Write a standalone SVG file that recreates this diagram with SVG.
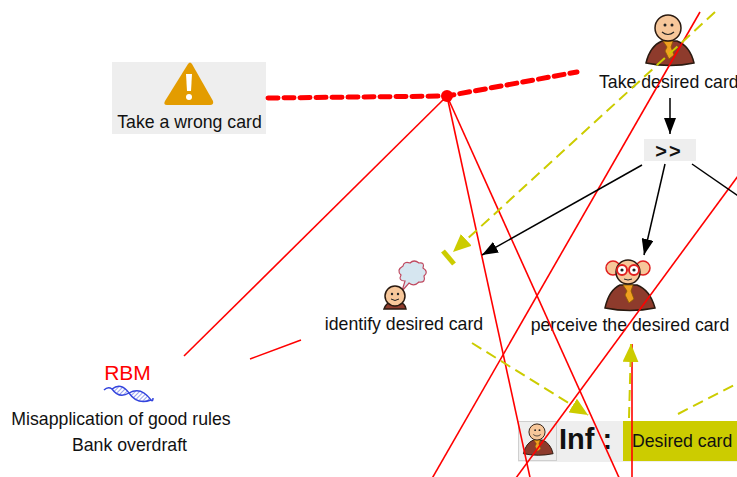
<svg xmlns="http://www.w3.org/2000/svg" width="737" height="477" viewBox="0 0 737 477">
  <style>
    .lbl{font-family:"Liberation Sans",Arial,sans-serif;font-size:17.7px;fill:#111}
    .red{stroke:#ff0000;stroke-width:1.6;fill:none}
    .yel{stroke:#cccc00;stroke-width:2;stroke-dasharray:11,6;fill:none}
    .blk{stroke:#000;stroke-width:1.5;fill:none}
    .skin{fill:#f7c79a;stroke:#2a1a10;stroke-width:1.5}
    .coat{fill:#8e3b2c;stroke:#2a1a10;stroke-width:1.5}
    .tie{fill:#f0a020;stroke:#8a5a00;stroke-width:0.8}
  </style>
  <defs>
    <marker id="ahBlack" markerUnits="userSpaceOnUse" markerWidth="18" markerHeight="12" refX="16" refY="6" orient="auto">
      <path d="M0,0 L16,6 L0,12 Z" fill="#000"/>
    </marker>
    <marker id="ahYellow" markerUnits="userSpaceOnUse" markerWidth="20" markerHeight="16" refX="18" refY="8" orient="auto">
      <path d="M0,0 L18,8 L0,16 Z" fill="#cccc00"/>
    </marker>
    <pattern id="hatch" patternUnits="userSpaceOnUse" width="3" height="3" patternTransform="rotate(45)">
      <line x1="0" y1="0" x2="0" y2="3" stroke="#3344dd" stroke-width="1"/>
    </pattern>
    <!-- standing person, head centred at origin -->
    <g id="person">
      <path class="coat" d="M-22,35 Q-18,18 -6,13 L9,13 Q22,18 26,35 Q2,40 -22,35 Z"/>
      <path class="tie" d="M-5,13 L5,13 L3,19 L6,27 L1,31 L-3,23 L-1,19 Z"/>
      <circle class="skin" cx="0" cy="0" r="13"/>
      <circle cx="-3" cy="-3" r="1.5" fill="#222"/>
      <circle cx="4" cy="-3" r="1.5" fill="#222"/>
      <path d="M-6,4 Q0,9 6,4" stroke="#222" stroke-width="1.2" fill="none"/>
    </g>
  </defs>

  <!-- nodes -->
  <g id="take-wrong-card">
    <rect x="112" y="62" width="154" height="72" fill="#eeeeee"/>
    <path d="M188,64 Q190,61 192,64 L213,101 Q214,105 210,105 L167,105 Q163,105 165,101 Z" fill="#e39c00"/>
    <path d="M186,74 L192,74 L191,91 L187,91 Z" fill="#fff"/>
    <circle cx="189" cy="97" r="3" fill="#fff"/>
    <text class="lbl" x="189.5" y="128" text-anchor="middle">Take a wrong card</text>
  </g>

  <g id="take-desired-card">
    <use href="#person" transform="translate(668,28)"/>
    <text class="lbl" x="599" y="88">Take desired card</text>
  </g>

  <g id="sequence">
    <rect x="644" y="139" width="52" height="22" fill="#eeeeee"/>
    <text x="669" y="158" text-anchor="middle" font-family="'Liberation Sans',Arial,sans-serif" font-size="20" font-weight="bold" letter-spacing="2" fill="#111">&gt;&gt;</text>
  </g>

  <g id="identify-desired-card">
    <path d="M403,266 Q404,261 410,263 Q414,259 419,263 Q425,262 423,268 Q429,272 424,276 Q426,283 419,282 Q414,287 409,283 L402,291 L405,281 Q398,281 401,275 Q396,270 403,266 Z" fill="#d6e6f0" stroke="#c04a60" stroke-width="1.2"/>
    <path class="coat" d="M384,309 Q386,303 391,302 L399,302 Q405,303 406,309 Z" stroke-width="1"/>
    <circle class="skin" cx="395" cy="296" r="10"/>
    <circle cx="392" cy="294" r="1.2" fill="#222"/>
    <circle cx="398" cy="294" r="1.2" fill="#222"/>
    <path d="M391,299 Q395,302 399,299" stroke="#222" stroke-width="1" fill="none"/>
    <text class="lbl" x="404" y="330" text-anchor="middle">identify desired card</text>
  </g>

  <g id="perceive-desired-card">
    <path class="coat" d="M605,308 Q609,290 620,285 L637,285 Q650,290 655,308 Q630,313 605,308 Z"/>
    <path class="tie" d="M623,285 L633,285 L631,291 L634,299 L629,303 L625,295 L627,291 Z"/>
    <circle cx="613" cy="268" r="7" fill="#f7c79a" stroke="#e02020" stroke-width="1.5"/>
    <circle cx="643" cy="268" r="7" fill="#f7c79a" stroke="#e02020" stroke-width="1.5"/>
    <circle class="skin" cx="628" cy="272" r="12"/>
    <circle cx="622" cy="270" r="5" fill="#fff" stroke="#e02020" stroke-width="2"/>
    <circle cx="634" cy="270" r="5" fill="#fff" stroke="#e02020" stroke-width="2"/>
    <circle cx="622" cy="270" r="1.6" fill="#222"/>
    <circle cx="634" cy="270" r="1.6" fill="#222"/>
    <path d="M624,279 Q628,281 632,279" stroke="#222" stroke-width="1" fill="none"/>
    <text class="lbl" x="630" y="331" text-anchor="middle">perceive the desired card</text>
  </g>

  <g id="rbm">
    <text x="127.5" y="380" text-anchor="middle" font-family="'Liberation Sans',Arial,sans-serif" font-size="21" fill="#ff0000">RBM</text>
    <path d="M104,390 Q108,386 112,389" stroke="#3344dd" stroke-width="1.5" fill="none"/>
    <path d="M112,389 Q121,382 129,393 Q119,399 112,389 Z" fill="url(#hatch)" stroke="#3344dd" stroke-width="1.4"/>
    <path d="M129,393 Q141,386 151,400 Q137,405 129,393 Z" fill="url(#hatch)" stroke="#3344dd" stroke-width="1.4"/>
    <path d="M151,400 Q153,402 153,398" stroke="#3344dd" stroke-width="1.5" fill="none"/>
    <text class="lbl" x="121" y="425" text-anchor="middle">Misapplication of good rules</text>
    <text class="lbl" x="129.5" y="451" text-anchor="middle">Bank overdraft</text>
  </g>

  <g id="inf-desired-card">
    <rect x="518" y="421" width="230" height="41" fill="#eeeeee"/>
    <rect x="518.5" y="421.5" width="38" height="39" fill="none" stroke="#cfcfcf" stroke-width="1"/>
    <use href="#person" transform="translate(537,432) scale(0.62)"/>
    <text x="559" y="449" font-family="'Liberation Sans',Arial,sans-serif" font-size="29" font-weight="bold" fill="#111">Inf<tspan dx="8">:</tspan></text>
    <rect x="623" y="421" width="125" height="40" fill="#cccc00"/>
    <text class="lbl" x="632" y="447">Desired card</text>
  </g>

  <!-- connectors -->
  <g id="connectors">
    <!-- thick dashed branch with junction -->
    <polyline points="268,98 447,96 577,72" fill="none" stroke="#ff0000" stroke-width="5" stroke-linecap="round" stroke-dasharray="10,6"/>
    <circle cx="447" cy="96" r="6" fill="#ff0000"/>
    <line class="red" x1="447" y1="96" x2="184" y2="356"/>
    <line class="red" x1="447" y1="96" x2="531" y2="482"/>
    <line class="red" x1="447" y1="96" x2="621" y2="482"/>
    <line class="red" x1="250" y1="359" x2="301" y2="340"/>
    <line class="red" x1="700" y1="12" x2="430" y2="482"/>
    <line class="red" x1="760" y1="146" x2="513" y2="482"/>
    <line class="red" x1="632" y1="344" x2="632" y2="482"/>

    <!-- yellow dashed flows -->
    <line class="yel" x1="715" y1="12" x2="453" y2="252" marker-end="url(#ahYellow)"/>
    <line x1="443" y1="251" x2="454" y2="264" stroke="#cccc00" stroke-width="5"/>
    <line class="yel" x1="472" y1="343" x2="588" y2="415" marker-end="url(#ahYellow)"/>
    <line class="yel" x1="629" y1="418" x2="631" y2="344" marker-end="url(#ahYellow)"/>
    <line class="yel" x1="678" y1="414" x2="740" y2="382"/>

    <!-- black sequence arrows -->
    <line class="blk" x1="670" y1="98" x2="670" y2="134" marker-end="url(#ahBlack)"/>
    <line class="blk" x1="642" y1="165" x2="482" y2="255" marker-end="url(#ahBlack)"/>
    <line class="blk" x1="665" y1="164" x2="644" y2="255" marker-end="url(#ahBlack)"/>
    <line class="blk" x1="692" y1="164" x2="760" y2="211"/>
  </g>
</svg>
